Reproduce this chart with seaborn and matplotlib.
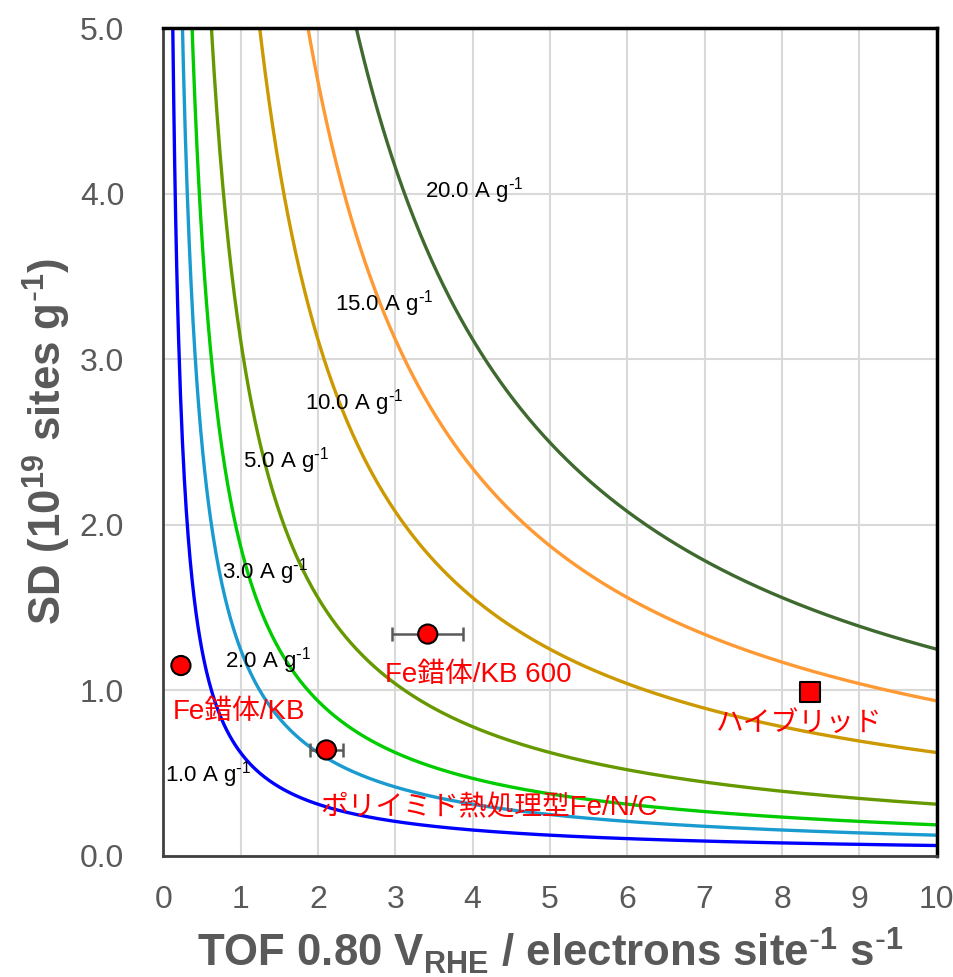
import numpy as np
import pandas as pd
import matplotlib
matplotlib.use("Agg")
import matplotlib.pyplot as plt
import seaborn as sns

# ---- data ----
current_densities = [1.0, 2.0, 3.0, 5.0, 10.0, 15.0, 20.0]   # A g-1
curve_colors = ["#0000FF", "#1A9BD0", "#00CC00", "#669900", "#CC9900", "#FF9933", "#3F6A2F"]
label_x = [0.03, 0.80, 0.76, 1.03, 1.83, 2.22, 3.39]
label_y = [0.49, 1.18, 1.72, 2.39, 2.74, 3.34, 4.02]

sample_names = ["Fe錯体/KB", "Fe錯体/KB 600", "ポリイミド熱処理型Fe/N/C", "ハイブリッド"]
sample_tof = [0.23, 3.42, 2.11, 8.36]
sample_sd = [1.15, 1.34, 0.64, 0.99]
sample_tof_err = [0.0, 0.46, 0.21, 0.0]
sample_marker = ["o", "o", "o", "s"]
sample_label_x = [0.13, 2.87, 2.03, 7.14]
sample_label_y = [0.87, 1.09, 0.29, 0.80]

x_ticks = list(range(0, 11))
y_ticks = [0.0, 1.0, 2.0, 3.0, 4.0, 5.0]

E_CHARGE = 1.602e-19
tof_grid = np.linspace(0.05, 10, 800)

rows = []
for j in current_densities:
    sd = j / E_CHARGE / tof_grid / 1e19
    for t, s in zip(tof_grid, sd):
        rows.append({"TOF": t, "SD": s, "j": f"{j:.1f}"})
curves = pd.DataFrame(rows)

pts = pd.DataFrame({"name": sample_names, "TOF": sample_tof, "SD": sample_sd,
                    "err": sample_tof_err, "marker": sample_marker})

sns.set_style("white")
plt.rcParams["font.family"] = ["Liberation Sans", "DejaVu Sans"]
plt.rcParams["mathtext.default"] = "regular"

fig = plt.figure(figsize=(9.54, 9.77), dpi=100)
ax = fig.add_axes([0.171, 0.124, 0.811, 0.847])

ax.grid(True, color="#D9D9D9", linewidth=1.5)
ax.set_axisbelow(True)

sns.lineplot(data=curves, x="TOF", y="SD", hue="j",
             palette=dict(zip([f"{j:.1f}" for j in current_densities], curve_colors)),
             linewidth=2.4, legend=False, ax=ax, sort=False, estimator=None)

for j, lx, ly in zip(current_densities, label_x, label_y):
    ax.text(lx, ly, f"{j:.1f} A g$^{{\\text{{-}}1}}$", fontsize=16, color="black",
            ha="left", va="center", zorder=5)

ax.errorbar(pts["TOF"], pts["SD"], xerr=pts["err"], fmt="none",
            ecolor="#595959", elinewidth=1.8, capsize=5, capthick=1.8, zorder=6)
sns.scatterplot(data=pts, x="TOF", y="SD", style="marker",
                markers={"o": "o", "s": "s"}, color="#FF0000",
                edgecolor="black", linewidth=1.5, s=190, legend=False, ax=ax, zorder=7)

for name, lx, ly in zip(sample_names, sample_label_x, sample_label_y):
    ax.text(lx, ly, name, fontsize=20, color="#FF0000", ha="left", va="center",
            family=["Liberation Sans", "Noto Sans CJK JP"], zorder=8)

ax.set_xlim(0, 10)
ax.set_ylim(0, 5)
ax.set_xticks(x_ticks)
ax.set_yticks(y_ticks)
ax.set_yticklabels([f"{v:.1f}" for v in y_ticks])
ax.tick_params(axis="both", labelsize=23, labelcolor="#595959", length=0)
ax.tick_params(axis="x", pad=21)
ax.tick_params(axis="y", pad=28)

for name, sp in ax.spines.items():
    sp.set_visible(True)
    if name in ("top", "right"):
        sp.set_color("black")
        sp.set_linewidth(2.5)
    else:
        sp.set_color("#404040")
        sp.set_linewidth(2)

ax.set_xlabel("TOF 0.80 V$_{RHE}$ / electrons site$^{\\text{-}1}$ s$^{\\text{-}1}$",
              fontsize=31.5, fontweight="bold", color="#595959", labelpad=8)
ax.set_ylabel("SD (10$^{19}$ sites g$^{\\text{-}1}$)",
              fontsize=31.5, fontweight="bold", color="#595959", labelpad=5)

fig.savefig("out.png", dpi=100)
